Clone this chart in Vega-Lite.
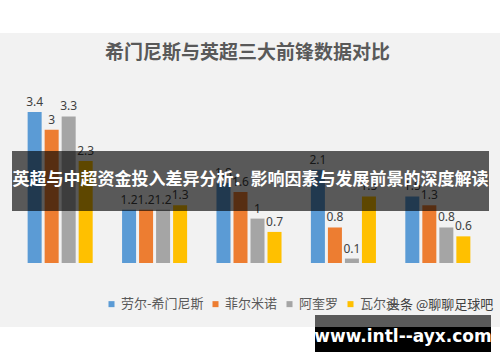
{
  "$schema": "https://vega.github.io/schema/vega-lite/v6.json",
  "autosize": "none",
  "width": 472,
  "height": 177.6,
  "padding": {"left": 13, "top": 85.4, "right": 15, "bottom": 99},
  "background": "#ffffff",
  "config": {"view": {"stroke": null}},
  "data": {
    "values": [
      {"cat": "场均射门", "player": "劳尔-希门尼斯", "v": 3.4},
      {"cat": "场均射门", "player": "菲尔米诺", "v": 3},
      {"cat": "场均射门", "player": "阿奎罗", "v": 3.3},
      {"cat": "场均射门", "player": "瓦尔迪", "v": 2.3},
      {"cat": "场均射正", "player": "劳尔-希门尼斯", "v": 1.2},
      {"cat": "场均射正", "player": "菲尔米诺", "v": 1.2},
      {"cat": "场均射正", "player": "阿奎罗", "v": 1.2},
      {"cat": "场均射正", "player": "瓦尔迪", "v": 1.3},
      {"cat": "场均过人", "player": "劳尔-希门尼斯", "v": 1.8},
      {"cat": "场均过人", "player": "菲尔米诺", "v": 1.6},
      {"cat": "场均过人", "player": "阿奎罗", "v": 1},
      {"cat": "场均过人", "player": "瓦尔迪", "v": 0.7},
      {"cat": "场均成功争顶", "player": "劳尔-希门尼斯", "v": 2.1},
      {"cat": "场均成功争顶", "player": "菲尔米诺", "v": 0.8},
      {"cat": "场均成功争顶", "player": "阿奎罗", "v": 0.1},
      {"cat": "场均成功争顶", "player": "瓦尔迪", "v": 1.5},
      {"cat": "场均关键传球", "player": "劳尔-希门尼斯", "v": 1.5},
      {"cat": "场均关键传球", "player": "菲尔米诺", "v": 1.3},
      {"cat": "场均关键传球", "player": "阿奎罗", "v": 0.8},
      {"cat": "场均关键传球", "player": "瓦尔迪", "v": 0.6}
    ]
  },
  "layer": [
    {
      "data": {"values": [{}]},
      "mark": {"type": "rect", "color": "#f2f2f2", "clip": false},
      "encoding": {"x": {"value": -13}, "x2": {"value": 487}, "y": {"value": -52.4}, "y2": {"value": 241.6}}
    },
    {
      "data": {"values": [{}]},
      "mark": {"type": "text", "text": "希门尼斯与英超三大前锋数据对比", "font": "Noto Sans CJK SC", "fontSize": 19, "fontWeight": "bold", "color": "#595959", "align": "center", "baseline": "middle"},
      "encoding": {"x": {"value": 234.5}, "y": {"value": -32.4}}
    },
    {
      "mark": {"type": "bar"},
      "encoding": {
        "x": {"field": "cat", "type": "nominal", "sort": ["场均射门", "场均射正", "场均过人", "场均成功争顶", "场均关键传球"], "scale": {"paddingInner": 0.311, "paddingOuter": 0.155},
          "axis": {"title": null, "ticks": false, "domainColor": "#d9d9d9", "labelPadding": 12, "labelFontSize": 12, "labelColor": "#595959", "labelFont": "Noto Sans CJK SC", "labelAngle": 0}},
        "xOffset": {"field": "player", "type": "nominal", "sort": ["劳尔-希门尼斯", "菲尔米诺", "阿奎罗", "瓦尔迪"], "scale": {"paddingInner": 0.176, "paddingOuter": 0}},
        "y": {"field": "v", "type": "quantitative", "scale": {"domain": [0, 4], "nice": false}, "axis": null},
        "color": {"field": "player", "type": "nominal", "sort": ["劳尔-希门尼斯", "菲尔米诺", "阿奎罗", "瓦尔迪"],
          "scale": {"domain": ["劳尔-希门尼斯", "菲尔米诺", "阿奎罗", "瓦尔迪"], "range": ["#5b9bd5", "#ed7d31", "#a5a5a5", "#ffc000"]},
          "legend": {"title": null, "orient": "none", "legendX": 92, "legendY": 212, "direction": "horizontal", "symbolType": "square", "symbolSize": 36, "symbolStrokeWidth": 0, "labelFontSize": 13, "labelColor": "#595959", "labelFont": "Noto Sans CJK SC", "columnPadding": 5, "labelOffset": 3}}
      }
    },
    {
      "mark": {"type": "text", "baseline": "bottom", "dy": -3, "fontSize": 12, "font": "Noto Sans", "color": "#404040"},
      "encoding": {
        "x": {"field": "cat", "type": "nominal", "sort": ["场均射门", "场均射正", "场均过人", "场均成功争顶", "场均关键传球"]},
        "xOffset": {"field": "player", "type": "nominal", "sort": ["劳尔-希门尼斯", "菲尔米诺", "阿奎罗", "瓦尔迪"]},
        "y": {"field": "v", "type": "quantitative"},
        "text": {"field": "v", "type": "quantitative"}
      }
    },
    {
      "data": {"values": [{}]},
      "mark": {"type": "rect", "color": "#000000", "opacity": 0.63, "clip": false},
      "encoding": {"x": {"value": -1}, "x2": {"value": 476}, "y": {"value": 65.6}, "y2": {"value": 125.6}}
    },
    {
      "data": {"values": [{}]},
      "mark": {"type": "text", "text": "英超与中超资金投入差异分析：影响因素与发展前景的深度解读", "font": "Noto Sans CJK SC", "fontSize": 17, "fontWeight": "bold", "color": "#ffffff", "align": "center", "baseline": "middle"},
      "encoding": {"x": {"value": 237.5}, "y": {"value": 94.6}}
    },
    {
      "data": {"values": [{}]},
      "mark": {"type": "text", "text": "头条 @聊聊足球吧", "font": "Noto Sans CJK SC", "fontSize": 13, "color": "#404040", "align": "left", "baseline": "middle"},
      "encoding": {"x": {"value": 374}, "y": {"value": 219.6}}
    },
    {
      "data": {"values": [{}]},
      "mark": {"type": "rect", "color": "#5a5a5a", "clip": false},
      "encoding": {"x": {"value": 302}, "x2": {"value": 478}, "y": {"value": 229.6}, "y2": {"value": 241.6}}
    },
    {
      "data": {"values": [{}]},
      "mark": {"type": "rect", "color": "#000000", "clip": false},
      "encoding": {"x": {"value": 302}, "x2": {"value": 478}, "y": {"value": 241.6}, "y2": {"value": 266.6}}
    },
    {
      "data": {"values": [{}]},
      "mark": {"type": "text", "text": "www.intl--ayx.com", "font": "DejaVu Sans", "fontSize": 17, "fontWeight": "bold", "color": "#ffffff", "align": "center", "baseline": "middle"},
      "encoding": {"x": {"value": 390}, "y": {"value": 251.6}}
    }
  ]
}
